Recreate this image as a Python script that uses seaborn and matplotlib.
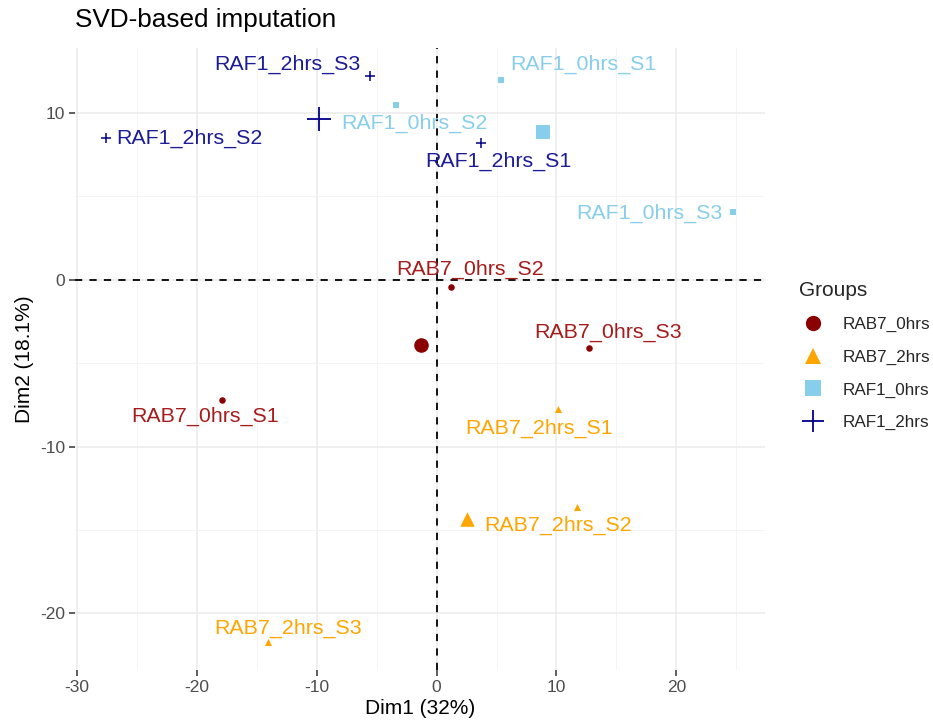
import matplotlib
matplotlib.use("Agg")
import matplotlib.pyplot as plt
from matplotlib.lines import Line2D
import seaborn as sns
import pandas as pd
import numpy as np

samples = ["RAB7_0hrs_S1", "RAB7_0hrs_S2", "RAB7_0hrs_S3",
           "RAB7_2hrs_S1", "RAB7_2hrs_S2", "RAB7_2hrs_S3",
           "RAF1_0hrs_S1", "RAF1_0hrs_S2", "RAF1_0hrs_S3",
           "RAF1_2hrs_S1", "RAF1_2hrs_S2", "RAF1_2hrs_S3"]
groups = ["RAB7_0hrs"] * 3 + ["RAB7_2hrs"] * 3 + ["RAF1_0hrs"] * 3 + ["RAF1_2hrs"] * 3
dim1 = [-17.9, 1.17, 12.75, 10.1, 11.67, -14.1, 5.33, -3.42, 24.75, 3.67, -27.6, -5.58]
dim2 = [-7.2, -0.42, -4.09, -7.76, -13.65, -21.7, 12.0, 10.5, 4.09, 8.2, 8.5, 12.2]
group_order = ["RAB7_0hrs", "RAB7_2hrs", "RAF1_0hrs", "RAF1_2hrs"]
palette = {"RAB7_0hrs": "#8B0000", "RAB7_2hrs": "#FFA500",
           "RAF1_0hrs": "#87CEEB", "RAF1_2hrs": "#00008B"}
text_palette = {"RAB7_0hrs": "#A51C1C", "RAB7_2hrs": "#FFA500",
                "RAF1_0hrs": "#87CEEB", "RAF1_2hrs": "#1C1C96"}
markers = {"RAB7_0hrs": "o", "RAB7_2hrs": "^", "RAF1_0hrs": "s", "RAF1_2hrs": "+"}
# label offsets in pixels (dx, dy with y downward), layout only
label_offsets = [(-17, 17), (19, -17), (19, -16),
                 (-19, 19), (-18, 18), (20, -13),
                 (83, -15), (19, 19), (-84, 2),
                 (18, 18), (84, 0), (-82, -12)]

df = pd.DataFrame({"sample": samples, "group": groups, "Dim1": dim1, "Dim2": dim2})
cent = df.groupby("group", sort=False)[["Dim1", "Dim2"]].mean().reset_index()

sns.set_theme(style="white")
plt.rcParams["font.family"] = ["Liberation Sans", "DejaVu Sans"]

fig = plt.figure(figsize=(9.33, 7.22), dpi=100)
ax = fig.add_axes([0.080, 0.072, 0.740, 0.8615])

xlim = (-30.2, 27.4)
ylim = (-23.4, 13.9)
ax.set_xlim(*xlim)
ax.set_ylim(*ylim)

# grid
for v in np.arange(-30, 28, 10):
    ax.axvline(v, color="#EBEBEB", lw=1.1, zorder=0)
for v in np.arange(-25, 28, 10):
    ax.axvline(v, color="#F2F2F2", lw=0.6, zorder=0)
for v in np.arange(-20, 14, 10):
    ax.axhline(v, color="#EBEBEB", lw=1.1, zorder=0)
for v in np.arange(-15, 14, 10):
    ax.axhline(v, color="#F2F2F2", lw=0.6, zorder=0)

ax.axhline(0, color="black", lw=1.3, ls=(0, (4, 4)), zorder=1)
ax.axvline(0, color="black", lw=1.3, ls=(0, (4, 4)), zorder=1)

for g in group_order:
    sub = df[df.group == g]
    cs = cent[cent.group == g]
    if markers[g] == "+":
        sns.scatterplot(data=sub, x="Dim1", y="Dim2", marker="+", color=palette[g],
                        s=60, linewidth=1.1, ax=ax, legend=False, zorder=3)
        sns.scatterplot(data=cs, x="Dim1", y="Dim2", marker="+", color=palette[g],
                        s=300, linewidth=1.3, ax=ax, legend=False, zorder=3)
    else:
        ssmall = 22 if markers[g] != "^" else 26
        sns.scatterplot(data=sub, x="Dim1", y="Dim2", marker=markers[g], color=palette[g],
                        s=ssmall, linewidth=0, ax=ax, legend=False, zorder=3)
        sns.scatterplot(data=cs, x="Dim1", y="Dim2", marker=markers[g], color=palette[g],
                        s=110, linewidth=0, ax=ax, legend=False, zorder=3)

for (i, row), (dx, dy) in zip(df.iterrows(), label_offsets):
    ax.annotate(row["sample"], (row["Dim1"], row["Dim2"]), xytext=(dx * 0.72, -dy * 0.72),
                textcoords="offset points", ha="center", va="center",
                fontsize=15.4, color=text_palette[row["group"]], zorder=4)

ax.set_xticks([-30, -20, -10, 0, 10, 20])
ax.set_yticks([-20, -10, 0, 10])
ax.set_xticklabels(["-30", "-20", "-10", "0", "10", "20"])
ax.set_yticklabels(["-20", "-10", "0", "10"])
ax.tick_params(axis="both", labelsize=12.5, labelcolor="#4D4D4D", length=4,
               width=1.1, color="#333333", direction="out", pad=3,
               bottom=True, left=True)
for sp in ax.spines.values():
    sp.set_visible(False)
ax.set_xlabel("Dim1 (32%)", fontsize=15, color="black", labelpad=3)
ax.set_ylabel("Dim2 (18.1%)", fontsize=15, color="black", labelpad=4)
ax.grid(False)

fig.text(75 / 933, 1 - 20 / 722, "SVD-based imputation", fontsize=18.8,
         ha="left", va="center", color="black")

handles = []
for g in group_order:
    if markers[g] == "+":
        h = Line2D([], [], marker="+", color=palette[g], ls="", markersize=16, mew=1.3)
    else:
        h = Line2D([], [], marker=markers[g], color=palette[g], ls="", markersize=11,
                   mew=0)
    handles.append(h)
leg = fig.legend(handles, group_order, title="Groups", loc="upper left",
                 bbox_to_anchor=(792 / 933, 1 - 274 / 722), frameon=False,
                 fontsize=12.3, title_fontsize=15, handletextpad=0.95,
                 handlelength=1.6, labelspacing=1.02, borderaxespad=0)
leg._legend_box.align = "left"

fig.savefig("out.png", dpi=100)
